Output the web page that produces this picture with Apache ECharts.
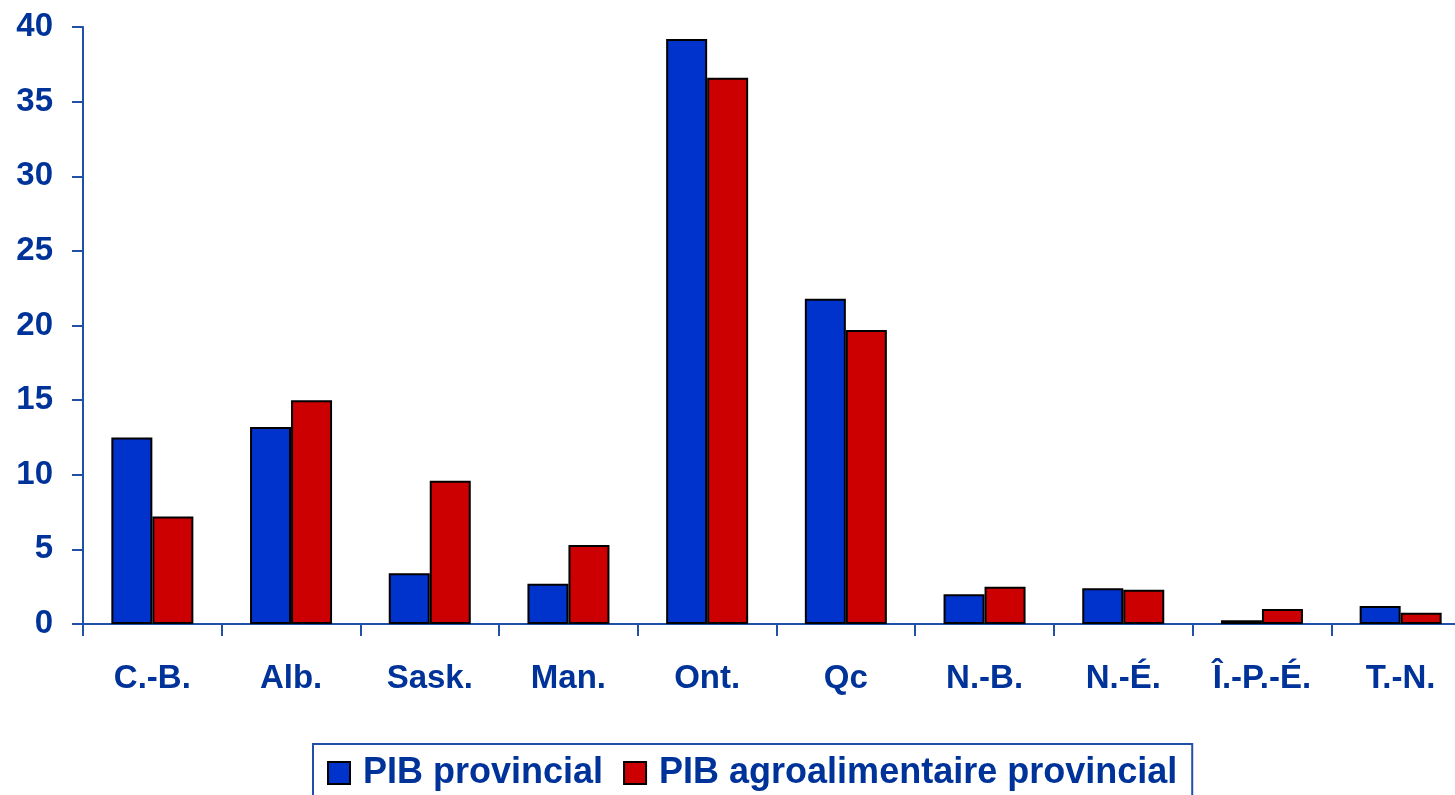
<!DOCTYPE html>
<html>
<head>
<meta charset="utf-8">
<script src="https://cdn.jsdelivr.net/npm/echarts@6/dist/echarts.min.js"></script>
<style>
  html, body { margin: 0; padding: 0; background: #fff; overflow: hidden; }
  /* the original picture is cut off on the right, so the canvas is a bit wider than the window */
  #chart { width: 1470px; height: 795px; }
</style>
</head>
<body>
<div id="chart"></div>
<script>
  // provinces
  const provinces = ['C.-B.', 'Alb.', 'Sask.', 'Man.', 'Ont.', 'Qc', 'N.-B.', 'N.-É.', 'Î.-P.-É.', 'T.-N.'];
  // share of GDP (%)
  const pibProvincial = [12.5, 13.2, 3.4, 2.7, 39.2, 21.8, 2.0, 2.4, 0.25, 1.2];
  const pibAgro = [7.2, 15.0, 9.6, 5.3, 36.6, 19.7, 2.5, 2.3, 1.0, 0.75];
  const seriesNames = ['PIB provincial', 'PIB agroalimentaire provincial'];

  const textColor = '#003399';
  const axisColor = '#2150a8';
  const font = 'Liberation Sans, Arial, sans-serif';

  const chart = echarts.init(document.getElementById('chart'));

  const option = {
    animation: false,
    backgroundColor: '#fff',
    grid: {
      left: 83,
      top: 27,
      width: 1387,
      height: 597
    },
    legend: {
      data: seriesNames,
      left: 313,
      top: 744,
      orient: 'horizontal',
      icon: 'rect',
      itemWidth: 22,
      itemHeight: 22,
      itemGap: 20,
      padding: [11, 15, 20, 14],
      borderColor: axisColor,
      borderWidth: 2,
      itemStyle: { borderColor: '#000', borderWidth: 2 },
      textStyle: {
        color: textColor,
        fontSize: 36,
        fontWeight: 'bold',
        fontFamily: font,
        padding: [0, 0, 0, 8]
      }
    },
    xAxis: {
      type: 'category',
      data: provinces,
      axisLine: { lineStyle: { color: axisColor, width: 2 } },
      axisTick: { show: true, length: 12, lineStyle: { color: axisColor, width: 2 } },
      axisLabel: {
        color: textColor,
        fontSize: 33,
        fontWeight: 'bold',
        fontFamily: font,
        margin: 38,
        interval: 0
      }
    },
    yAxis: {
      type: 'value',
      min: 0,
      max: 40,
      interval: 5,
      splitLine: { show: false },
      axisLine: { show: true, lineStyle: { color: axisColor, width: 2 } },
      axisTick: { show: true, length: 11, lineStyle: { color: axisColor, width: 2 } },
      axisLabel: {
        color: textColor,
        fontSize: 33,
        fontWeight: 'bold',
        fontFamily: font,
        margin: 30
      }
    },
    series: [
      {
        name: seriesNames[0],
        type: 'bar',
        data: pibProvincial,
        barWidth: 41,
        barGap: '0%',
        itemStyle: { color: '#0033CC', borderColor: '#000', borderWidth: 2 }
      },
      {
        name: seriesNames[1],
        type: 'bar',
        data: pibAgro,
        barWidth: 41,
        barGap: '0%',
        itemStyle: { color: '#CC0000', borderColor: '#000', borderWidth: 2 }
      }
    ]
  };

  chart.setOption(option);
</script>
</body>
</html>
